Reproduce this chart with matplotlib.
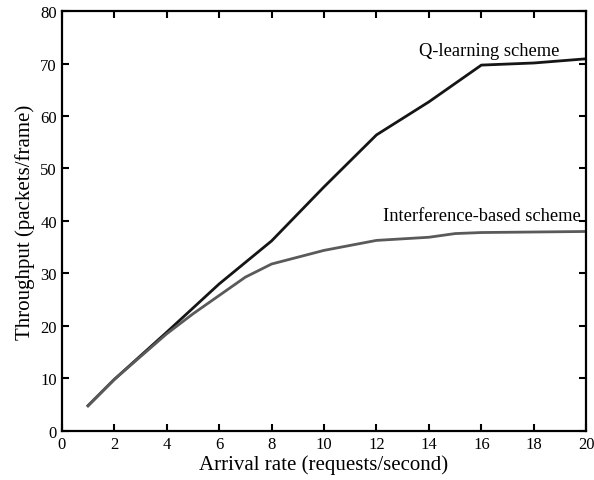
import matplotlib
matplotlib.use("Agg")
import matplotlib.pyplot as plt

q_x = [1, 2, 4, 6, 8, 10, 12, 14, 16, 18, 20]
q_y = [4.8, 9.8, 18.8, 28.0, 36.2, 46.5, 56.4, 62.7, 69.7, 70.1, 70.9]
i_x = [1, 2, 4, 5, 6, 7, 8, 10, 12, 14, 15, 16, 18, 20]
i_y = [4.8, 9.8, 18.5, 22.3, 25.8, 29.3, 31.8, 34.4, 36.3, 36.9, 37.6, 37.8, 37.9, 38.0]
x_ticks = [0, 2, 4, 6, 8, 10, 12, 14, 16, 18, 20]
y_ticks = [0, 10, 20, 30, 40, 50, 60, 70, 80]

plt.rcParams['font.family'] = ['Liberation Serif', 'DejaVu Serif']
fig = plt.figure(figsize=(5.94, 4.81), dpi=100)
ax = fig.add_axes([0.104, 0.102, 0.883, 0.873])
ax.plot(q_x, q_y, color='#151515', lw=2.0)
ax.plot(i_x, i_y, color='#5a5a5a', lw=2.0)
ax.set_xlim(0, 20)
ax.set_ylim(0, 80)
ax.set_xticks(x_ticks)
ax.set_yticks(y_ticks)
ax.tick_params(direction='in', top=True, right=True, length=5, width=1.5, labelsize=12)
for s in ax.spines.values():
    s.set_linewidth(1.6)
ax.set_xlabel('Arrival rate (requests/second)', fontsize=15, labelpad=2)
ax.set_ylabel('Throughput (packets/frame)', fontsize=15, labelpad=4)
ax.text(16.3, 72.4, 'Q-learning scheme', fontsize=13.3, ha='center', va='center')
ax.text(16.0, 41.0, 'Interference-based scheme', fontsize=13.3, ha='center', va='center')
fig.savefig('out.png', dpi=100)
